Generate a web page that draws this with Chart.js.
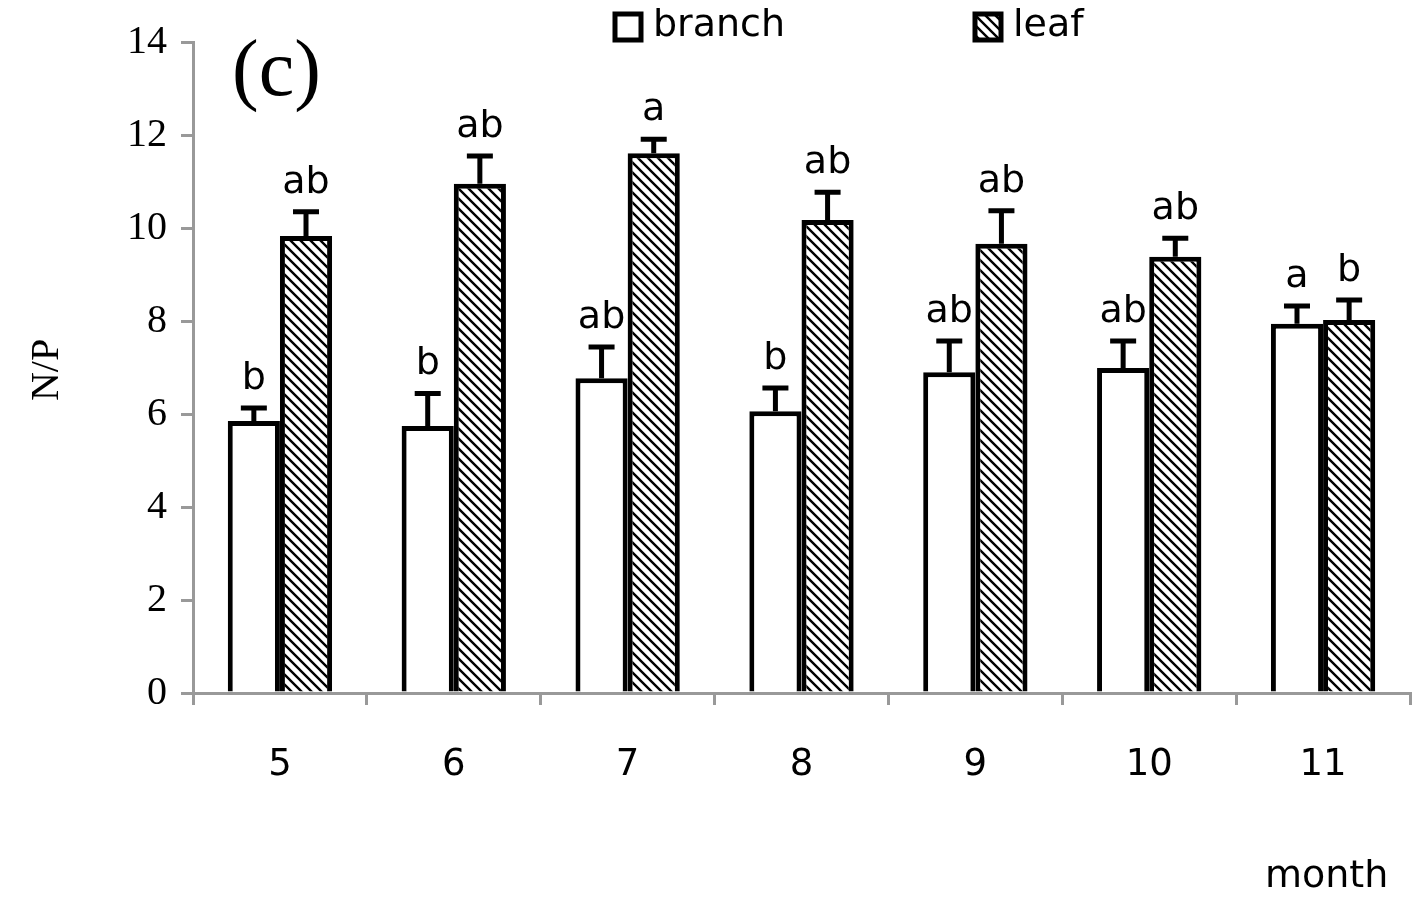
<!DOCTYPE html>
<html><head><meta charset="utf-8">
<script src="https://cdn.jsdelivr.net/npm/chart.js@4/dist/chart.umd.min.js"></script>
<style>html,body{margin:0;background:#fff}#w{width:1419px;height:900px}</style>
</head><body><div id="w"><canvas id="c"></canvas></div>
<script>
const months=['5','6','7','8','9','10','11'];
const branch=[5.85,5.74,6.77,6.06,6.9,6.99,7.94];
const branchErr=[0.28,0.7,0.67,0.5,0.67,0.58,0.38];
const leaf=[9.83,10.95,11.61,10.17,9.66,9.38,8.02];
const leafErr=[0.52,0.6,0.3,0.6,0.71,0.4,0.43];
const branchLetters=['b','b','ab','b','ab','ab','a'];
const leafLetters=['ab','ab','a','ab','ab','ab','b'];

function hatch(){const p=document.createElement('canvas');p.width=p.height=10;const g=p.getContext('2d');
g.fillStyle='#fff';g.fillRect(0,0,10,10);g.strokeStyle='#000';g.lineWidth=2.4;
g.beginPath();g.moveTo(-2,-2);g.lineTo(12,12);g.moveTo(-7,3);g.lineTo(7,17);g.moveTo(3,-7);g.lineTo(17,7);g.stroke();
return document.getElementById('c').getContext('2d').createPattern(p,'repeat');}

const extras={id:'extras',afterDatasetsDraw(ch){
 const c=ch.ctx,y=ch.scales.y;
 [[branchErr,branchLetters],[leafErr,leafLetters]].forEach((d,di)=>{
  const meta=ch.getDatasetMeta(di);
  meta.data.forEach((b,i)=>{
   const v=ch.data.datasets[di].data[i],top=y.getPixelForValue(v+d[0][i]);
   c.save();c.strokeStyle='#000';c.lineWidth=5;c.beginPath();
   c.moveTo(b.x,b.y);c.lineTo(b.x,top);c.moveTo(b.x-13,top);c.lineTo(b.x+13,top);c.stroke();
   c.fillStyle='#000';c.font='38px "DejaVu Sans", sans-serif';c.textAlign='center';c.textBaseline='bottom';
   c.fillText(d[1][i],b.x,top-10);c.restore();
  });
 });
 c.save();c.fillStyle='#000';
 c.font='80px "Liberation Serif", serif';c.textAlign='left';c.textBaseline='alphabetic';c.fillText('(c)',232,95);
 c.font='40px "Liberation Serif", serif';c.save();c.translate(58,370);c.rotate(-Math.PI/2);c.textAlign='center';c.fillText('N/P',0,0);c.restore();
 c.font='38px "DejaVu Sans", sans-serif';c.textAlign='left';c.fillText('month',1265,887);
 c.textBaseline='middle';
 c.lineWidth=5;c.strokeStyle='#000';
 c.fillStyle='#fff';c.fillRect(615,14,26,26);c.strokeRect(615,14,26,26);c.fillStyle='#000';c.fillText('branch',653,26);
 c.fillStyle=ch.data.datasets[1].backgroundColor;c.fillRect(975,14,26,26);c.strokeRect(975,14,26,26);c.fillStyle='#000';c.fillText('leaf',1013,26);
 c.restore();
}};

new Chart(document.getElementById('c'),{type:'bar',
 data:{labels:months,datasets:[
  {label:'branch',data:branch,backgroundColor:'#fff',borderColor:'#000',borderWidth:5},
  {label:'leaf',data:leaf,backgroundColor:hatch(),borderColor:'#000',borderWidth:5}]},
 options:{responsive:true,maintainAspectRatio:false,animation:false,
  layout:{padding:{top:42,right:9,left:0,bottom:0}},
  datasets:{bar:{categoryPercentage:0.6,barPercentage:1.0}},
  plugins:{legend:{display:false},tooltip:{enabled:false}},
  scales:{
   x:{afterFit:s=>{s.height=207},grid:{offset:true,drawOnChartArea:false,color:'#999',lineWidth:3,tickLength:12},
      border:{color:'#999',width:3},ticks:{color:'#000',padding:38,font:{family:'DejaVu Sans',size:37}}},
   y:{min:0,max:14,afterFit:s=>{s.width=193},grid:{drawOnChartArea:false,color:'#999',lineWidth:3,tickLength:12},
      border:{color:'#999',width:3},ticks:{stepSize:2,color:'#000',padding:14,font:{family:'Liberation Serif',size:40}}}
  }},plugins:[extras]});
</script></body></html>
